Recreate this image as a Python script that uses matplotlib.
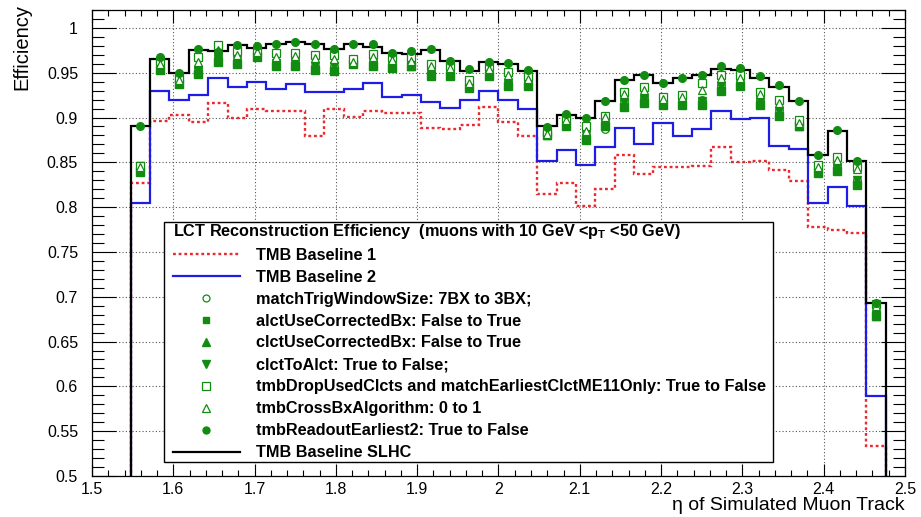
import numpy as np
import matplotlib
matplotlib.use("Agg")
from matplotlib import pyplot as plt
from matplotlib.lines import Line2D
from matplotlib.patches import Rectangle
from matplotlib.ticker import MultipleLocator, FormatStrFormatter

plt.rcParams['font.family'] = ['Liberation Sans', 'DejaVu Sans']
plt.rcParams['mathtext.fontset'] = 'custom'
plt.rcParams['mathtext.rm'] = 'Liberation Sans'
plt.rcParams['mathtext.bf'] = 'Liberation Sans:bold'

# eta binning: 42 bins over [1.5, 2.5], filled bins start at index 2
eta_lo, eta_hi, n_bins = 1.5, 2.5, 42
first_bin = 2

baseline1 = [0.827, 0.896, 0.903, 0.895, 0.916, 0.900, 0.910, 0.907, 0.907, 0.879,
             0.910, 0.901, 0.907, 0.905, 0.905, 0.888, 0.887, 0.892, 0.912, 0.895,
             0.879, 0.815, 0.827, 0.801, 0.820, 0.858, 0.837, 0.845, 0.845, 0.846,
             0.867, 0.850, 0.852, 0.841, 0.829, 0.778, 0.775, 0.771, 0.534]
baseline2 = [0.805, 0.930, 0.920, 0.925, 0.944, 0.934, 0.940, 0.932, 0.937, 0.929,
             0.929, 0.932, 0.939, 0.923, 0.925, 0.917, 0.911, 0.920, 0.930, 0.920,
             0.909, 0.851, 0.864, 0.847, 0.867, 0.888, 0.870, 0.894, 0.879, 0.887,
             0.907, 0.898, 0.899, 0.868, 0.865, 0.805, 0.822, 0.801, 0.589]
slhc = [0.890, 0.965, 0.950, 0.975, 0.974, 0.981, 0.978, 0.982, 0.984, 0.982,
        0.977, 0.982, 0.979, 0.972, 0.971, 0.975, 0.963, 0.952, 0.962, 0.960,
        0.952, 0.890, 0.903, 0.899, 0.918, 0.942, 0.947, 0.938, 0.944, 0.948,
        0.954, 0.953, 0.944, 0.934, 0.918, 0.858, 0.885, 0.851, 0.693]

match_trig = [0.842, 0.956, 0.939, 0.955, 0.966, 0.963, 0.970, 0.962, 0.962, 0.958,
              0.957, 0.963, 0.962, 0.958, 0.960, 0.951, 0.950, 0.938, 0.950, 0.940,
              0.940, 0.884, 0.896, 0.880, 0.887, 0.918, 0.922, 0.918, 0.918, 0.920,
              0.936, 0.939, 0.919, 0.908, 0.893, 0.842, 0.846, 0.830, 0.681]
alct_corr = [0.839, 0.953, 0.937, 0.949, 0.962, 0.960, 0.968, 0.957, 0.958, 0.953,
             0.952, 0.960, 0.958, 0.955, 0.957, 0.946, 0.946, 0.933, 0.946, 0.935,
             0.935, 0.880, 0.891, 0.875, 0.890, 0.912, 0.916, 0.914, 0.914, 0.914,
             0.930, 0.935, 0.914, 0.902, 0.890, 0.838, 0.840, 0.825, 0.678]
clct_corr = [0.840, 0.955, 0.938, 0.951, 0.963, 0.962, 0.969, 0.959, 0.960, 0.955,
             0.954, 0.961, 0.960, 0.956, 0.958, 0.948, 0.947, 0.935, 0.947, 0.937,
             0.937, 0.881, 0.892, 0.877, 0.892, 0.914, 0.918, 0.915, 0.916, 0.916,
             0.932, 0.936, 0.916, 0.904, 0.891, 0.840, 0.842, 0.827, 0.679]
clct_to_alct = [0.846, 0.958, 0.940, 0.953, 0.965, 0.964, 0.970, 0.961, 0.962, 0.958,
                0.957, 0.963, 0.962, 0.958, 0.960, 0.950, 0.949, 0.937, 0.949, 0.939,
                0.939, 0.884, 0.895, 0.880, 0.895, 0.917, 0.921, 0.918, 0.918, 0.918,
                0.935, 0.938, 0.918, 0.907, 0.893, 0.843, 0.845, 0.830, 0.680]
drop_used = [0.846, 0.963, 0.944, 0.967, 0.981, 0.974, 0.975, 0.972, 0.972, 0.970,
             0.970, 0.965, 0.971, 0.967, 0.967, 0.960, 0.958, 0.942, 0.957, 0.951,
             0.946, 0.884, 0.900, 0.890, 0.902, 0.929, 0.934, 0.923, 0.925, 0.938,
             0.947, 0.947, 0.929, 0.919, 0.897, 0.847, 0.856, 0.845, 0.692]
cross_bx = [0.845, 0.960, 0.942, 0.962, 0.975, 0.970, 0.973, 0.967, 0.969, 0.966,
            0.965, 0.962, 0.968, 0.964, 0.963, 0.957, 0.955, 0.939, 0.954, 0.948,
            0.943, 0.882, 0.897, 0.885, 0.901, 0.926, 0.931, 0.921, 0.923, 0.931,
            0.944, 0.944, 0.926, 0.916, 0.894, 0.845, 0.853, 0.843, 0.690]
readout2 = [0.890, 0.967, 0.950, 0.976, 0.973, 0.981, 0.980, 0.982, 0.984, 0.982,
            0.977, 0.982, 0.982, 0.972, 0.974, 0.976, 0.963, 0.954, 0.962, 0.961,
            0.953, 0.889, 0.904, 0.899, 0.918, 0.942, 0.947, 0.939, 0.944, 0.947,
            0.957, 0.955, 0.946, 0.936, 0.918, 0.858, 0.886, 0.852, 0.693]

edges = np.linspace(eta_lo, eta_hi, n_bins + 1)
centers = 0.5 * (edges[:-1] + edges[1:])
filled = slice(first_bin, first_bin + len(slhc))
x_pts = centers[filled]


def full_hist(vals):
    h = np.zeros(n_bins)
    h[filled] = vals
    return h


red = '#ea2a2e'
blue = '#1d1de6'
green = '#118c11'
dots = (0, (1.2, 1.2))

fig = plt.figure(figsize=(9.21, 5.17), dpi=100)
ax = fig.add_axes([0.0999, 0.0793, 0.8827, 0.9014])

ax.grid(True, which='major', color='#555555', linestyle=(0, (1, 2)), linewidth=0.8)
ax.set_axisbelow(True)

ax.stairs(full_hist(baseline1), edges, color=red, lw=1.7, linestyle=dots, zorder=2)
ax.stairs(full_hist(baseline2), edges, color=blue, lw=1.6, zorder=2)
ax.stairs(full_hist(slhc), edges, color='black', lw=1.6, zorder=3)

ms = 5.5
ax.plot(x_pts, match_trig, 'o', mfc='none', mec=green, mew=0.9, ms=ms, zorder=4)
ax.plot(x_pts, alct_corr, 's', color=green, ms=ms, zorder=4)
ax.plot(x_pts, clct_corr, '^', color=green, ms=ms + 0.5, zorder=4)
ax.plot(x_pts, clct_to_alct, 'v', color=green, ms=ms + 0.5, zorder=4)
ax.plot(x_pts, drop_used, 's', mfc='white', mec=green, mew=0.9, ms=ms + 0.5, zorder=5)
ax.plot(x_pts, cross_bx, '^', mfc='white', mec=green, mew=0.9, ms=ms, zorder=5)
ax.plot(x_pts, readout2, 'o', color=green, ms=ms, zorder=6)

ax.set_xlim(eta_lo, eta_hi)
ax.set_ylim(0.5, 1.02)
ax.xaxis.set_major_locator(MultipleLocator(0.1))
ax.xaxis.set_minor_locator(MultipleLocator(0.02))
ax.yaxis.set_major_locator(MultipleLocator(0.05))
ax.yaxis.set_minor_locator(MultipleLocator(0.01))
ax.xaxis.set_major_formatter(FormatStrFormatter('%g'))
ax.yaxis.set_major_formatter(FormatStrFormatter('%g'))
ax.tick_params(which='both', direction='in', top=True, right=True, width=0.8,
               labelsize=11.5)
ax.tick_params(axis='y', which='major', length=17, pad=10)
ax.tick_params(axis='y', which='minor', length=8.5)
ax.tick_params(axis='x', which='major', length=9, pad=4)
ax.tick_params(axis='x', which='minor', length=4.5)
for s in ax.spines.values():
    s.set_linewidth(0.9)

ax.set_ylabel('Efficiency', loc='top', fontsize=14.5)
ax.yaxis.set_label_coords(-0.074, 1.012)
ax.set_xlabel('\u03b7 of Simulated Muon Track', loc='right', fontsize=14)
ax.xaxis.set_label_coords(1.0, -0.0445)

# legend frame (ROOT-style box), drawn separately so the entries can sit tight to its top
ax.add_patch(Rectangle((0.0886, 0.030), 0.749, 0.515, transform=ax.transAxes,
                       facecolor='white', edgecolor='black', lw=1.0, zorder=9))

handles = [
    Line2D([], [], color=red, lw=1.7, linestyle=dots),
    Line2D([], [], color=blue, lw=1.6),
    Line2D([], [], marker='o', ls='none', mfc='none', mec=green, mew=0.9, ms=5),
    Line2D([], [], marker='s', ls='none', color=green, ms=5),
    Line2D([], [], marker='^', ls='none', color=green, ms=5.5),
    Line2D([], [], marker='v', ls='none', color=green, ms=5.5),
    Line2D([], [], marker='s', ls='none', mfc='white', mec=green, mew=0.9, ms=5.5),
    Line2D([], [], marker='^', ls='none', mfc='white', mec=green, mew=0.9, ms=5.5),
    Line2D([], [], marker='o', ls='none', color=green, ms=5),
    Line2D([], [], color='black', lw=1.6),
]
labels = [
    'TMB Baseline 1',
    'TMB Baseline 2',
    'matchTrigWindowSize: 7BX to 3BX;',
    'alctUseCorrectedBx: False to True',
    'clctUseCorrectedBx: False to True',
    'clctToAlct: True to False;',
    'tmbDropUsedClcts and matchEarliestClctME11Only: True to False',
    'tmbCrossBxAlgorithm: 0 to 1',
    'tmbReadoutEarliest2: True to False',
    'TMB Baseline SLHC',
]
leg = ax.legend(handles, labels,
                title=r'LCT Reconstruction Efficiency  (muons with 10 GeV <$\mathbf{p}_{\mathbf{T}}$ <50 GeV)',
                loc='upper left', bbox_to_anchor=(0.0996, 0.546), borderaxespad=0,
                prop={'weight': 'bold', 'size': 11.7},
                title_fontproperties={'weight': 'bold', 'size': 11.7},
                alignment='left', frameon=False,
                handlelength=4.1, handletextpad=1.0, labelspacing=0.43,
                borderpad=0)
leg.set_zorder(10)

fig.savefig('out.png', dpi=100, facecolor='white')
